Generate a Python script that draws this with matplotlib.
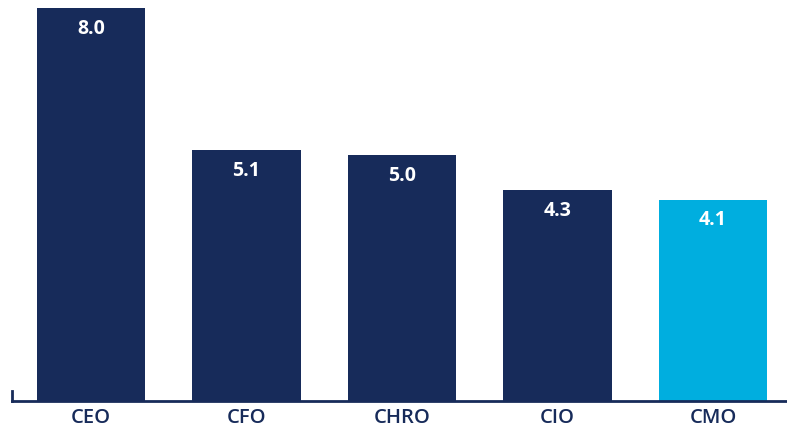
import matplotlib
matplotlib.use("Agg")
import matplotlib.pyplot as plt

categories = ["CEO", "CFO", "CHRO", "CIO", "CMO"]
values = [8.0, 5.1, 5.0, 4.3, 4.1]
labels = ["8.0", "5.1", "5.0", "4.3", "4.1"]

navy = "#172B5A"
cyan = "#00AEDF"
colors = [navy, navy, navy, navy, cyan]

fig = plt.figure(figsize=(7.87, 4.30), dpi=100)
W, H = 787, 430
left_px, right_px, top_px, bottom_px = 12, 787, 8, 401
ax = fig.add_axes([left_px / W, (H - bottom_px) / H, (right_px - left_px) / W, (bottom_px - top_px) / H])

x = list(range(len(categories)))
ax.bar(x, values, width=0.695, color=colors, zorder=2)
ax.set_xlim(-0.508, 4.476)
ax.set_ylim(0, 8)

for xi, v, lab in zip(x, values, labels):
    ax.annotate(lab, (xi, v), xytext=(0, -15), textcoords="offset points",
                ha="center", va="center", color="white", fontsize=14,
                fontweight="bold", family="Open Sans")

for s in ["top", "right"]:
    ax.spines[s].set_visible(False)
ax.spines["bottom"].set_color(navy)
ax.spines["bottom"].set_linewidth(2)
ax.spines["left"].set_color(navy)
ax.spines["left"].set_linewidth(2)
ax.spines["left"].set_bounds(0, 0.2)
ax.set_yticks([])
ax.set_xticks(x)
ax.set_xticklabels(categories, fontsize=14.5, color=navy, family="Open Sans", fontweight="semibold")
ax.tick_params(axis="x", length=0, pad=5)

fig.savefig("out.png", dpi=100)
